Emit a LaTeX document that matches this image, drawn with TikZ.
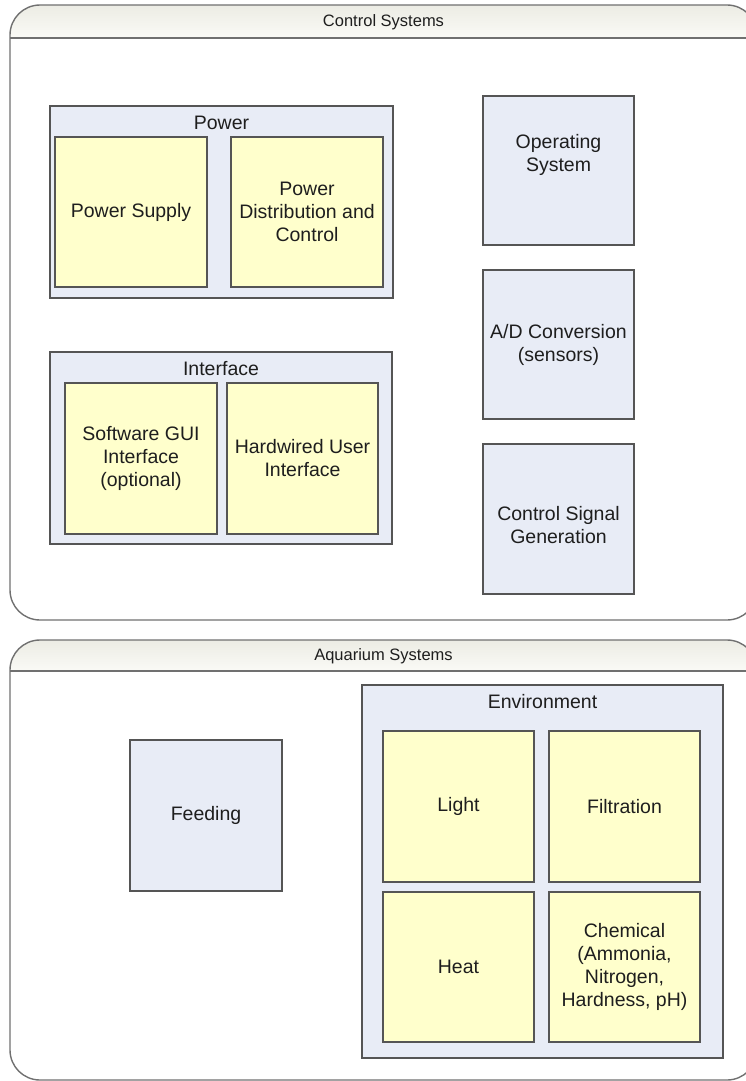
\documentclass[tikz,border=0pt]{standalone}
\usepackage{fontspec}
\setmainfont{Liberation Sans}
\definecolor{frameGrey}{RGB}{112,112,112}
\definecolor{boxGrey}{RGB}{85,85,85}
\definecolor{hdrTop}{RGB}{236,236,228}
\definecolor{hdrBottom}{RGB}{250,250,246}
\definecolor{subBlue}{RGB}{232,236,246}
\definecolor{leafYellow}{RGB}{255,255,204}
\definecolor{txtDark}{RGB}{30,30,30}
\begin{document}
\begin{tikzpicture}[x=1pt,y=-1pt,
  frameline/.style={draw=frameGrey, line width=1.4pt, rounded corners=30pt},
  hdrline/.style={draw=frameGrey, line width=1.8pt},
  hdrtext/.style={font=\fontsize{16.5}{19}\selectfont, text=txtDark, inner sep=0pt},
  boxbase/.style={draw=boxGrey, line width=1.2pt, inner sep=0pt, align=center,
    font=\fontsize{19.5}{23}\selectfont, text=txtDark},
  grp/.style={boxbase, fill=subBlue},
  leaf/.style={boxbase, fill=leafYellow},
  lbl/.style={font=\fontsize{19.5}{23}\selectfont, text=txtDark, align=center, inner sep=0pt},
  sq/.style={minimum width=152pt, minimum height=151pt}]

\useasboundingbox (0,0) rectangle (746,1081);
\clip (0,0) rectangle (746,1081);

% ---- Control Systems container ----
\begin{scope}
  \clip[rounded corners=30pt] (10,5) rectangle (757,620);
  \shade[top color=hdrTop, bottom color=hdrBottom] (10,5) rectangle (757,38);
\end{scope}
\draw[frameline] (10,5) rectangle (757,620);
\draw[hdrline] (10,38) -- (757,38);
\node[hdrtext] (ctrlhdr) at (383.5,22) {Control Systems};

% ---- Aquarium Systems container ----
\begin{scope}
  \clip[rounded corners=30pt] (10,640) rectangle (757,1080);
  \shade[top color=hdrTop, bottom color=hdrBottom] (10,640) rectangle (757,671);
\end{scope}
\draw[frameline] (10,640) rectangle (757,1080);
\draw[hdrline] (10,671) -- (757,671);
\node[hdrtext] (aqhdr) at (383.5,656) {Aquarium Systems};

% ---- Power group ----
\node[grp, minimum width=343pt, minimum height=192pt] (power) at (221.5,202) {};
\node[lbl] (powerlbl) at (221.5,123) {Power};
\node[leaf, sq, minimum height=150pt] (psu) at (131,212) {Power Supply};
\node[leaf, sq, minimum height=150pt] (pdc) at (307,212) {Power\\Distribution and\\Control};

% ---- Interface group ----
\node[grp, minimum width=342pt, minimum height=192pt] (iface) at (221,448) {};
\node[lbl] (ifacelbl) at (221,369) {Interface};
\node[leaf, sq] (gui) at (141,458.5) {Software GUI\\Interface\\(optional)};
\node[leaf, sq, minimum width=151pt] (hwui) at (302.5,458.5) {Hardwired User\\Interface};

% ---- Right-hand column ----
\node[grp, minimum width=151pt, minimum height=149pt] (os) at (558.5,170.5) {};
\node[lbl] (oslbl) at (558.5,155) {Operating\\System};
\node[grp, minimum width=151pt, minimum height=149pt] (adc) at (558.5,344.5) {A/D Conversion\\(sensors)};
\node[grp, minimum width=151pt, minimum height=150pt] (csg) at (558.5,519) {};
\node[lbl] (csglbl) at (558.5,525) {Control Signal\\Generation};

% ---- Aquarium parts ----
\node[grp, sq] (feed) at (206,815.5) {Feeding};

\node[grp, minimum width=361pt, minimum height=373pt] (env) at (542.5,871.5) {};
\node[lbl] (envlbl) at (542.5,702) {Environment};
\node[leaf, sq, minimum width=151pt] (light) at (458.5,806.5) {Light};
\node[leaf, sq, minimum width=151pt] (filt) at (624.5,806.5) {Filtration};
\node[leaf, sq, minimum width=151pt, minimum height=150pt] (heat) at (458.5,967) {Heat};
\node[leaf, sq, minimum width=151pt, minimum height=150pt] (chem) at (624.5,967) {Chemical\\(Ammonia,\\Nitrogen,\\Hardness, pH)};

\end{tikzpicture}
\end{document}
